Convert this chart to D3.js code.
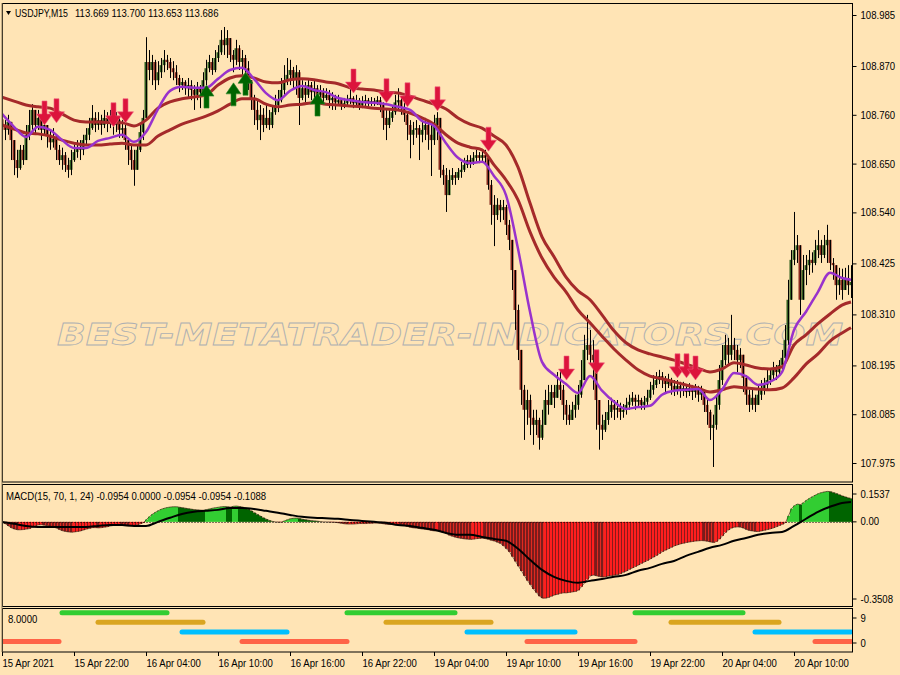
<!DOCTYPE html>
<html><head><meta charset="utf-8">
<script src="https://cdn.jsdelivr.net/npm/d3@7"></script>
<style>body{margin:0;background:#ffe4b5;}svg{display:block}text{white-space:pre}</style>
</head><body><svg id="c" width="900" height="675"></svg>
<script>
// ---------------- DATA (prices in thousandths above 108.000) ----------------
const symbolName = "USDJPY,M15";
const symbolQuotes = "113.669 113.700 113.653 113.686";
const macdTitle = "MACD(15, 70, 1, 24) -0.0954 0.0000 -0.0954 -0.0954 -0.1088";
const signalPanelLabel = "8.0000";
const open0 = 750;
const close = [737,726,744,703,658,640,681,658,715,737,
771,737,753,726,737,715,698,706,681,658,
669,647,636,658,676,686,681,703,715,730,
753,737,748,737,753,744,753,737,748,726,
730,703,681,658,636,681,721,753,879,861,
879,838,856,872,884,879,865,856,843,827,
834,820,827,816,805,820,811,838,865,879,
861,888,901,929,917,933,895,884,910,879,
888,865,838,798,771,748,760,737,753,737,
766,782,793,816,838,850,861,843,856,798,
820,805,827,811,820,805,811,798,805,793,
798,788,793,782,786,793,798,786,793,782,
788,793,786,791,786,793,782,753,737,753,
766,788,793,775,760,737,715,726,730,715,
726,737,715,703,737,753,636,624,579,613,
624,618,631,636,647,658,654,663,669,663,
669,663,602,557,534,557,545,552,512,478,
410,320,230,140,95,117,77,61,72,32,
61,117,106,135,122,151,140,106,84,72,
95,106,129,162,230,241,219,207,117,61,
50,72,90,106,95,99,90,95,106,113,
122,113,117,106,113,122,140,151,162,171,
162,153,162,149,140,149,140,144,135,144,
135,140,129,135,106,90,54,61,106,162,
207,241,219,241,230,207,219,167,129,106,
122,106,129,144,151,162,173,185,180,196,
212,252,343,433,455,466,343,410,421,433,
426,455,466,444,466,478,426,421,376,388,
365,392,376,383];
const high = [766,748,760,737,703,681,692,692,737,771,
784,760,771,760,753,737,726,730,715,692,
686,676,663,681,692,703,703,715,730,753,
782,766,766,760,771,766,771,760,766,753,
748,737,708,692,681,692,737,771,935,906,
895,884,881,888,906,895,888,881,872,850,
843,838,843,838,827,834,827,856,884,895,
888,906,917,951,958,951,929,906,929,917,
906,895,881,838,805,793,782,775,782,771,
782,805,816,843,872,888,884,868,872,861,
838,834,843,834,838,827,827,820,820,816,
811,805,805,798,798,805,820,802,805,798,
802,805,798,800,798,802,800,788,771,771,
782,805,820,798,788,766,748,744,748,737,
744,753,748,737,760,766,753,647,640,636,
640,631,640,654,663,669,669,676,681,676,
681,681,669,613,579,572,568,568,557,523,
478,410,332,230,151,140,129,95,95,77,
95,140,151,151,151,180,185,151,117,106,
113,129,151,207,264,309,275,252,207,117,
84,90,117,122,117,117,111,108,122,129,
135,129,129,122,126,140,158,173,180,185,
180,171,176,167,162,162,158,158,153,155,
151,153,149,149,140,122,95,84,129,196,
241,264,257,309,257,241,234,219,173,140,
140,129,151,162,167,185,189,203,196,207,
230,286,388,455,541,489,466,444,444,455,
450,478,500,478,489,512,478,437,421,415,
413,415,421,421];
const low = [715,703,715,658,624,618,636,647,658,703,
726,715,726,703,715,686,681,686,658,647,
636,631,618,624,654,663,658,669,692,703,
726,721,726,715,730,721,730,715,721,708,
708,681,647,636,600,636,676,703,750,838,
827,816,827,843,856,861,843,838,827,811,
816,805,800,793,771,793,775,805,827,856,
850,856,879,895,895,888,879,856,872,861,
850,850,816,771,737,726,703,721,730,726,
730,760,766,788,805,827,827,820,805,737,
793,788,798,793,798,788,793,782,793,775,
771,771,780,771,775,782,784,775,780,771,
775,780,780,780,780,782,766,726,703,730,
744,760,771,760,744,703,662,692,708,658,
698,703,681,622,692,703,618,602,541,591,
602,602,613,618,631,640,640,647,654,651,
654,647,591,512,464,523,518,523,489,455,
365,275,207,106,27,61,38,16,38,5,
27,72,84,106,99,122,117,72,61,61,
72,77,95,122,162,207,196,140,50,5,
27,45,61,77,72,77,72,77,84,95,
104,95,99,95,95,106,117,129,144,153,
144,135,144,129,126,129,122,126,122,126,
117,122,113,117,90,61,27,-34,50,95,
151,196,196,207,207,180,189,135,106,90,
95,90,106,117,129,140,151,162,162,173,
185,207,241,343,421,426,309,365,376,399,
404,421,437,426,437,426,410,388,343,354,
343,370,354,347];
// moving-average lines, sampled every 4th bar plus the last bar
const maStep = 4;
const bandUpper = [800,791,782,778,775,762,748,744,744,742,742,735,748,775,789,796,800,805,827,843,848,843,834,832,839,841,839,834,830,821,818,816,811,809,802,793,784,773,753,739,730,712,692,642,561,485,440,394,363,343,309,273,246,230,221,214,207,198,189,180,187,201,196,189,187,192,241,264,289,311,331,338];
const bandLower = [737,728,719,717,712,703,696,692,692,694,696,692,692,712,726,739,748,757,769,784,796,796,784,778,782,784,787,784,782,780,778,775,773,771,764,753,739,715,696,687,681,647,613,568,496,437,394,361,320,291,261,232,207,185,171,165,158,151,144,135,140,147,144,142,140,144,167,198,221,250,268,280];
const fastMA = [762,733,710,733,726,703,685,685,701,708,715,699,721,773,814,823,821,821,841,861,866,841,809,793,814,825,816,811,798,793,789,787,784,778,771,746,735,696,663,651,654,622,579,458,316,203,174,153,133,171,138,113,97,101,104,129,138,140,142,117,140,178,171,151,158,180,275,316,361,404,392,388];
// signal arrows: [bar, price]
const sellArrows = [[14,737],[18,742],[37,733],[41,742],[117,809],[128,787],[135,778],[145,769],[162,678],[188,162],[198,176],[225,167],[228,167],[231,162]];
const buyArrows = [[68,827],[77,832],[81,856],[105,809]];
// MACD histogram (thousandths) per bar, and signal line sampled every 4th bar
const macdHist = [-2,-8,-17,-25,-30,-33,-33,-32,-30,-28,
-22,-16,-13,-12,-14,-16,-18,-20,-26,-32,
-37,-40,-42,-43,-42,-40,-38,-34,-30,-27,
-24,-24,-25,-24,-22,-20,-17,-15,-14,-14,
-15,-16,-17,-16,-14,-12,-8,-3,10,22,
32,40,47,53,57,60,62,63,63,61,
59,57,55,53,51,50,49,48,51,54,
57,59,61,63,64,63,62,65,66,64,
62,58,53,46,38,31,24,17,11,6,
2,0,-1,-1,4,9,13,15,16,14,
11,9,7,5,4,3,1,0,0,-1,
-1,-2,-4,-6,-8,-9,-9,-9,-8,-7,
-7,-7,-6,-6,-5,-5,-6,-8,-10,-11,
-11,-10,-10,-12,-15,-19,-23,-25,-26,-28,
-30,-31,-33,-36,-38,-38,-40,-44,-50,-56,
-60,-64,-67,-69,-71,-72,-73,-72,-70,-69,
-68,-70,-73,-77,-80,-85,-90,-100,-112,-125,
-145,-165,-185,-205,-225,-245,-262,-280,-295,-310,
-318,-318,-315,-310,-305,-302,-298,-296,-296,-294,
-292,-290,-285,-270,-255,-240,-225,-222,-225,-228,
-230,-229,-226,-224,-222,-220,-216,-210,-205,-198,
-192,-186,-180,-173,-167,-161,-154,-147,-140,-132,
-124,-118,-112,-106,-100,-96,-92,-89,-86,-84,
-82,-80,-79,-78,-79,-81,-84,-86,-82,-72,
-58,-44,-34,-26,-22,-21,-22,-26,-32,-36,
-38,-40,-40,-38,-35,-32,-29,-25,-20,-15,
-10,-3,25,55,68,74,72,80,90,98,
105,112,118,122,125,127,126,122,118,113,
108,104,100,97];
const macdSignal = [0,-8,-17,-21,-21,-21,-21,-21,-17,-13,-13,-17,-17,0,17,33,42,46,50,58,58,54,46,38,29,21,17,15,13,8,4,0,-4,-13,-17,-25,-33,-46,-54,-54,-63,-71,-79,-112,-158,-200,-229,-246,-254,-246,-238,-229,-221,-204,-192,-175,-163,-142,-125,-108,-96,-79,-67,-54,-46,-42,-17,13,42,63,79,83];
// bottom indicator: segments [startBar, endBar] per level
const levelSeries = [
  {name:"green", level:8, color:"#32cd32", segs:[[20,55],[115,151],[211,247]]},
  {name:"gold",  level:6, color:"#daa520", segs:[[32,67],[128,163],[223,259]]},
  {name:"cyan",  level:4, color:"#00bfff", segs:[[60,95],[155,191],[251,283]]},
  {name:"red",   level:2, color:"#ff6347", segs:[[0,19],[80,115],[175,211],[271,283]]}
];
const priceTicks = [108.985,108.870,108.760,108.650,108.540,108.425,108.310,108.195,108.085,107.975];
const macdTicks = [0.1537,0,-0.3508];
const macdTickLabels = ["0.1537","0.00","-0.3508"];
const levelTicks = [9,0];
const timeTickBars = [0,24,48,72,96,120,144,168,192,216,240,264];
const timeTickLabels = ["15 Apr 2021","15 Apr 22:00","16 Apr 04:00","16 Apr 10:00","16 Apr 16:00","16 Apr 22:00","19 Apr 04:00","19 Apr 10:00","19 Apr 16:00","19 Apr 22:00","20 Apr 04:00","20 Apr 10:00"];
const watermark = "BEST-METATRADER-INDICATORS.COM";

// ---------------- CHART ----------------
const W = 900, H = 675, BG = "#ffe4b5";
const FONT = "'Liberation Sans', Arial, sans-serif";
const svg = d3.select("#c");
svg.append("rect").attr("width", W).attr("height", H).attr("fill", BG);

const nBars = close.length;
const px = v => 108 + v / 1000;
const x = d3.scaleLinear().domain([0, nBars - 1]).range([2, 851]);
const yP = d3.scaleLinear().domain([107.975, 108.985]).range([463, 15]);
const yM = d3.scaleLinear().domain([-0.3508, 0.1537]).range([606, 485]);
const yB = d3.scaleLinear().domain([0, 9]).range([651, 608]);

const L = 2.5, R = 852.5;
const defs = svg.append("defs");
defs.append("clipPath").attr("id", "cm").append("rect").attr("x", L).attr("y", 4).attr("width", R - L).attr("height", 478);
defs.append("clipPath").attr("id", "cd").append("rect").attr("x", L).attr("y", 485).attr("width", R - L).attr("height", 121);
defs.append("clipPath").attr("id", "cb").append("rect").attr("x", L).attr("y", 609).attr("width", R - L).attr("height", 43);

// ---- main panel
const gm = svg.append("g").attr("clip-path", "url(#cm)");
gm.append("text").text(watermark)
  .attr("x", 57).attr("y", 345).attr("textLength", 786).attr("lengthAdjust", "spacingAndGlyphs")
  .attr("font-family", "'DejaVu Sans', sans-serif").attr("font-size", 30).attr("font-style", "italic").attr("font-weight", "bold")
  .attr("fill", "none").attr("stroke", "#aeb0b2").attr("stroke-width", 0.8);

const bars = close.map((c, i) => {
  const o = i ? close[i - 1] : open0;
  return {i, o: px(o), c: px(c), h: px(Math.max(high[i], o, c)), l: px(Math.min(low[i], o, c))};
});
const cg = gm.append("g");
cg.selectAll("rect.body").data(bars).join("rect").attr("class", "body")
  .attr("x", d => x(d.i) - 1.5).attr("width", 3)
  .attr("y", d => yP(Math.max(d.o, d.c))).attr("height", d => Math.max(1, Math.abs(yP(d.o) - yP(d.c))))
  .attr("fill", d => d.c >= d.o ? "#2f5f1f" : "#8a2a1e");
cg.selectAll("line.wick").data(bars).join("line").attr("class", "wick")
  .attr("x1", d => x(d.i) + 0.5).attr("x2", d => x(d.i) + 0.5)
  .attr("y1", d => yP(d.h)).attr("y2", d => yP(d.l))
  .attr("stroke", "#000").attr("stroke-width", 1);

const maBar = k => Math.min(k * maStep, nBars - 1);
const maLine = d3.line().x((d, k) => x(maBar(k))).y(d => yP(px(d))).curve(d3.curveMonotoneX);
gm.append("path").attr("d", maLine(bandUpper)).attr("fill", "none").attr("stroke", "#a52a2a").attr("stroke-width", 3);
gm.append("path").attr("d", maLine(bandLower)).attr("fill", "none").attr("stroke", "#a52a2a").attr("stroke-width", 3);
gm.append("path").attr("d", maLine(fastMA)).attr("fill", "none").attr("stroke", "#9932cc").attr("stroke-width", 2.5);

const downArrow = (cx, t) => `M${cx-2.5},${t-24}L${cx+2.5},${t-24}L${cx+2.5},${t-11}L${cx+8},${t-11}L${cx},${t}L${cx-8},${t-11}L${cx-2.5},${t-11}Z`;
const upArrow = (cx, t) => `M${cx-2.5},${t+23}L${cx+2.5},${t+23}L${cx+2.5},${t+11}L${cx+7.5},${t+11}L${cx},${t}L${cx-7.5},${t+11}L${cx-2.5},${t+11}Z`;
gm.selectAll("path.sell").data(sellArrows).join("path").attr("class", "sell")
  .attr("d", d => downArrow(x(d[0]) + 0.5, yP(px(d[1])))).attr("fill", "#dc143c").attr("stroke", "#f06080").attr("stroke-width", 0.6);
gm.selectAll("path.buy").data(buyArrows).join("path").attr("class", "buy")
  .attr("d", d => upArrow(x(d[0]) + 0.5, yP(px(d[1])))).attr("fill", "#006400").attr("stroke", "#2e8b2e").attr("stroke-width", 0.6);

// ---- MACD panel
const gd = svg.append("g").attr("clip-path", "url(#cd)");
const hist = macdHist.map((v, i) => ({i, v: v / 1000, up: i === 0 ? true : v >= macdHist[i - 1]}));
const z = yM(0);
gd.selectAll("rect.h").data(hist).join("rect").attr("class", "h")
  .attr("x", d => x(d.i) - 1).attr("width", 3)
  .attr("y", d => Math.min(z, yM(d.v))).attr("height", d => Math.abs(yM(d.v) - z))
  .attr("fill", d => d.v >= 0 ? (d.up ? "#32cd32" : "#006400") : (d.up ? "#ff1e1e" : "#7a1c1c"));
gd.selectAll("rect.s").data(hist.filter(d => d.v < 0)).join("rect").attr("class", "s")
  .attr("x", d => x(d.i) + 1).attr("width", 1)
  .attr("y", z).attr("height", d => Math.abs(yM(d.v) - z))
  .attr("fill", d => d.up ? "#8b1a1a" : "#e02a20");
const histEdge = d3.line().x(d => x(d.i) + 0.5).y(d => yM(d.v)).curve(d3.curveLinear);
gd.append("path").attr("d", histEdge(hist)).attr("fill", "none").attr("stroke", "#3a1a10").attr("stroke-width", 0.8).attr("opacity", 0.8);
gd.append("line").attr("x1", L).attr("x2", R).attr("y1", Math.round(z) + 0.5).attr("y2", Math.round(z) + 0.5)
  .attr("stroke", "#000").attr("stroke-dasharray", "1,2");
const sigLine = d3.line().x((d, k) => x(maBar(k))).y(d => yM(d / 1000)).curve(d3.curveMonotoneX);
gd.append("path").attr("d", sigLine(macdSignal)).attr("fill", "none").attr("stroke", "#000").attr("stroke-width", 2);

// ---- bottom panel
const gb = svg.append("g").attr("clip-path", "url(#cb)");
levelSeries.forEach(s => {
  gb.selectAll(null).data(s.segs).join("line")
    .attr("x1", d => x(d[0])).attr("x2", d => x(d[1]))
    .attr("y1", yB(s.level)).attr("y2", yB(s.level))
    .attr("stroke", s.color).attr("stroke-width", 5).attr("stroke-linecap", "round");
});

// ---- frames
const fr = svg.append("g").attr("fill", "none").attr("stroke", "#000").attr("stroke-width", 1);
fr.append("rect").attr("x", L).attr("y", 3.5).attr("width", R - L).attr("height", 478.5);
fr.append("rect").attr("x", L).attr("y", 484.5).attr("width", R - L).attr("height", 122);
fr.append("rect").attr("x", L).attr("y", 608.5).attr("width", R - L).attr("height", 43.5);
svg.append("line").attr("x1", 2).attr("x2", 2).attr("y1", 3).attr("y2", 652).attr("stroke", "#8a7a5a").attr("stroke-width", 1);

// ---- texts
const txt = svg.append("g").attr("font-family", FONT).attr("font-size", 11).attr("fill", "#000");
svg.append("path").attr("d", "M6,11L11,11L8.5,15Z").attr("fill", "#000");
txt.append("text").attr("x", 15).attr("y", 17).attr("textLength", 53).attr("lengthAdjust", "spacingAndGlyphs").text(symbolName);
txt.append("text").attr("class", "cond").attr("x", 75).attr("y", 17).text(symbolQuotes);
txt.append("text").attr("class", "cond").attr("x", 6).attr("y", 500).text(macdTitle);
txt.append("text").attr("class", "cond").attr("x", 8).attr("y", 623).text(signalPanelLabel);

// ---- axes
function styleAxis(g) {
  g.select(".domain").remove();
  g.selectAll("text").attr("font-family", FONT).attr("font-size", 11).attr("fill", "#000").attr("class", "cond");
  g.selectAll("line").attr("stroke", "#000");
}
const aP = svg.append("g").attr("transform", `translate(${R},0)`)
  .call(d3.axisRight(yP).tickValues(priceTicks).tickFormat(d3.format(".3f")).tickSize(4).tickPadding(4));
styleAxis(aP);
const aM = svg.append("g").attr("transform", `translate(${R},0)`)
  .call(d3.axisRight(yM).tickValues(macdTicks).tickFormat((d, k) => macdTickLabels[k]).tickSize(4).tickPadding(4));
styleAxis(aM);
aM.selectAll(".tick").attr("transform", d => `translate(0,${Math.min(599, Math.max(494, yM(d)))})`);
const aB = svg.append("g").attr("transform", `translate(${R},0)`)
  .call(d3.axisRight(yB).tickValues(levelTicks).tickFormat(d3.format("d")).tickSize(4).tickPadding(4));
styleAxis(aB);
aB.selectAll(".tick").attr("transform", d => `translate(0,${Math.min(643, Math.max(618, yB(d)))})`);
const aT = svg.append("g").attr("transform", "translate(0,652)")
  .call(d3.axisBottom(x).tickValues(timeTickBars).tickFormat((d, k) => timeTickLabels[k]).tickSize(4));
styleAxis(aT);
aT.selectAll("text").attr("text-anchor", "start").attr("y", 15).attr("dy", 0).attr("x", 0);

// condense text to match the narrow platform font
svg.selectAll("text.cond").each(function () {
  const len = this.getComputedTextLength();
  d3.select(this).attr("textLength", len * 0.87).attr("lengthAdjust", "spacingAndGlyphs");
});
</script></body></html>
